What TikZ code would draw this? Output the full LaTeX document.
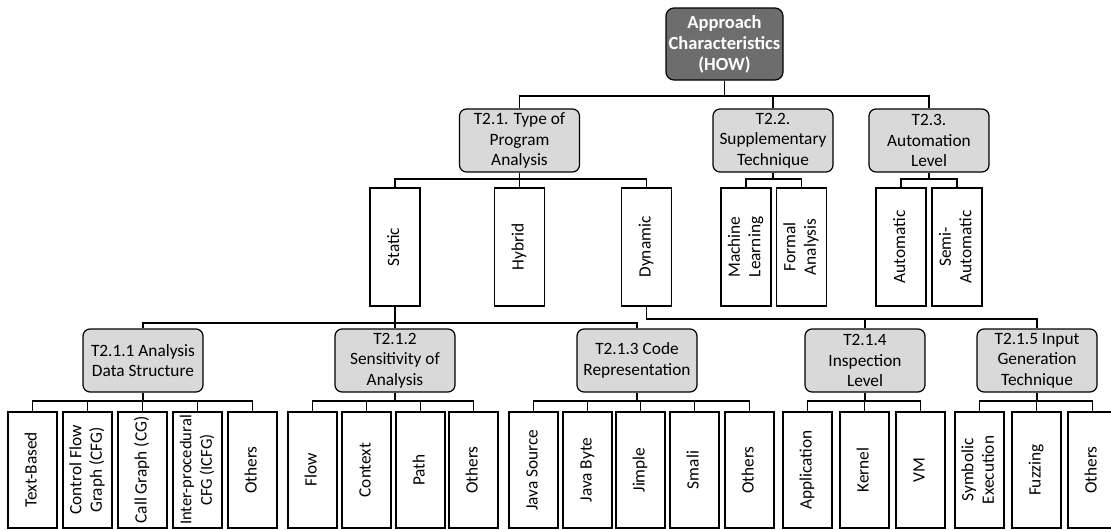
\documentclass[tikz,border=0pt]{standalone}
\usepackage{fontspec}
\setmainfont{Carlito}
\definecolor{rootgray}{HTML}{6D6D6D}
\definecolor{catgray}{HTML}{D9D9D9}
\newcommand{\vtxt}[1]{\rotatebox{90}{\begin{tabular}{@{}c@{}}#1\end{tabular}}}
\tikzset{
  base/.style={draw=black, line width=1.2pt, inner sep=0pt, align=center, font=\fontsize{17.3}{20.5}\selectfont},
  rootbox/.style={base, fill=rootgray, rounded corners=8pt, text=white, font=\fontsize{18.5}{21}\selectfont\bfseries, minimum width=117pt, minimum height=72pt},
  catbox/.style={base, fill=catgray, rounded corners=7pt, minimum width=120pt, minimum height=63pt},
  midleaf/.style={base, fill=white, minimum width=50pt, minimum height=118pt},
  leaf/.style={base, fill=white, minimum width=49pt, minimum height=116pt},
  conn/.style={draw=black, line width=1.2pt},
}
\begin{document}
\begin{tikzpicture}[x=1pt,y=-1pt]
\useasboundingbox (0,0) rectangle (1111,530);
\clip (0,0) rectangle (1111,530);
\fill[white] (0,0) rectangle (1111,530);
% bus levels
\coordinate (b0) at (0,96);
\coordinate (b1) at (0,179);
\coordinate (bS) at (0,323);
\coordinate (bD) at (0,319);
\coordinate (bB) at (0,401);
% root and level 1
\node[rootbox] (root) at (724.5,44) {Approach\\Characteristics\\(HOW)};
\node[catbox] (t21) at (519.5,140.5) {T2.1. Type of\\Program\\Analysis};
\node[catbox] (t22) at (773,140.5) {T2.2.\\Supplementary\\Technique};
\node[catbox] (t23) at (929,140.5) {T2.3.\\Automation\\Level};
% level 2
\node[midleaf] (static) at (395,247) {\vtxt{Static}};
\node[midleaf] (hybrid) at (519.5,247) {\vtxt{Hybrid}};
\node[midleaf] (dynamic) at (646.5,247) {\vtxt{Dynamic}};
\node[midleaf] (ml) at (746,247) {\vtxt{Machine\\Learning}};
\node[midleaf] (fa) at (801.5,247) {\vtxt{Formal\\Analysis}};
\node[midleaf] (auto) at (901,247) {\vtxt{Automatic}};
\node[midleaf] (semi) at (957,247) {\vtxt{Semi-\\Automatic}};
% level 3
\node[catbox] (t211) at (143,360.5) {T2.1.1 Analysis\\Data Structure};
\node[catbox] (t212) at (395,360.5) {T2.1.2\\Sensitivity of\\Analysis};
\node[catbox] (t213) at (637,360.5) {T2.1.3 Code\\Representation};
\node[catbox] (t214) at (865,360.5) {T2.1.4\\Inspection\\Level};
\node[catbox] (t215) at (1037,360.5) {T2.1.5 Input\\Generation\\Technique};
% leaves
\node[leaf] (a1) at (32.5,470) {\vtxt{Text-Based}};
\node[leaf] (a2) at (87.5,470) {\vtxt{Control Flow\\Graph (CFG)}};
\node[leaf] (a3) at (142.5,470) {\vtxt{Call Graph (CG)}};
\node[leaf, font=\fontsize{16.6}{20.5}\selectfont] (a4) at (197.5,470) {\vtxt{Inter-procedural\\CFG (ICFG)}};
\node[leaf] (a5) at (252.5,470) {\vtxt{Others}};
\node[leaf] (s1) at (312.5,470) {\vtxt{Flow}};
\node[leaf] (s2) at (366.5,470) {\vtxt{Context}};
\node[leaf] (s3) at (420.5,470) {\vtxt{Path}};
\node[leaf] (s4) at (473.5,470) {\vtxt{Others}};
\node[leaf] (c1) at (533.5,470) {\vtxt{Java Source}};
\node[leaf] (c2) at (587.5,470) {\vtxt{Java Byte}};
\node[leaf] (c3) at (640.5,470) {\vtxt{Jimple}};
\node[leaf] (c4) at (694.5,470) {\vtxt{Smali}};
\node[leaf] (c5) at (749.5,470) {\vtxt{Others}};
\node[leaf] (i1) at (807.5,470) {\vtxt{Application}};
\node[leaf] (i2) at (864.5,470) {\vtxt{Kernel}};
\node[leaf] (i3) at (920.5,470) {\vtxt{VM}};
\node[leaf] (g1) at (979.5,470) {\vtxt{Symbolic\\Execution}};
\node[leaf] (g2) at (1036.5,470) {\vtxt{Fuzzing}};
\node[leaf] (g3) at (1092.5,470) {\vtxt{Others}};
% connectors: root
\draw[conn] (root.south) -- (root.south |- b0);
\draw[conn] (t21.north) -- (t21.north |- b0) -- (t23.north |- b0) -- (t23.north);
\draw[conn] (t22.north) -- (t22.north |- b0);
% level 1 -> level 2
\draw[conn] (t21.south) -- (t21.south |- b1);
\draw[conn] (static.north) -- (static.north |- b1) -- (dynamic.north |- b1) -- (dynamic.north);
\draw[conn] (hybrid.north) -- (hybrid.north |- b1);
\draw[conn] (t22.south) -- (t22.south |- b1);
\draw[conn] (ml.north) -- (ml.north |- b1) -- (fa.north |- b1) -- (fa.north);
\draw[conn] (t23.south) -- (t23.south |- b1);
\draw[conn] (auto.north) -- (auto.north |- b1) -- (semi.north |- b1) -- (semi.north);
% static / dynamic -> level 3
\draw[conn] (static.south) -- (static.south |- bS);
\draw[conn] (t211.north) -- (t211.north |- bS) -- (t213.north |- bS) -- (t213.north);
\draw[conn] (t212.north) -- (t212.north |- bS);
\draw[conn] (dynamic.south) -- (dynamic.south |- bD) -- (t215.north |- bD) -- (t215.north);
\draw[conn] (t214.north) -- (t214.north |- bD);
% level 3 -> leaves
\draw[conn] (t211.south) -- (t211.south |- bB);
\draw[conn] (a1.north) -- (a1.north |- bB) -- (a5.north |- bB) -- (a5.north);
\foreach \n in {a2,a3,a4} \draw[conn] (\n.north) -- (\n.north |- bB);
\draw[conn] (t212.south) -- (t212.south |- bB);
\draw[conn] (s1.north) -- (s1.north |- bB) -- (s4.north |- bB) -- (s4.north);
\foreach \n in {s2,s3} \draw[conn] (\n.north) -- (\n.north |- bB);
\draw[conn] (t213.south) -- (t213.south |- bB);
\draw[conn] (c1.north) -- (c1.north |- bB) -- (c5.north |- bB) -- (c5.north);
\foreach \n in {c2,c3,c4} \draw[conn] (\n.north) -- (\n.north |- bB);
\draw[conn] (t214.south) -- (t214.south |- bB);
\draw[conn] (i1.north) -- (i1.north |- bB) -- (i3.north |- bB) -- (i3.north);
\draw[conn] (i2.north) -- (i2.north |- bB);
\draw[conn] (t215.south) -- (t215.south |- bB);
\draw[conn] (g1.north) -- (g1.north |- bB) -- (g3.north |- bB) -- (g3.north);
\draw[conn] (g2.north) -- (g2.north |- bB);
\end{tikzpicture}
\end{document}
